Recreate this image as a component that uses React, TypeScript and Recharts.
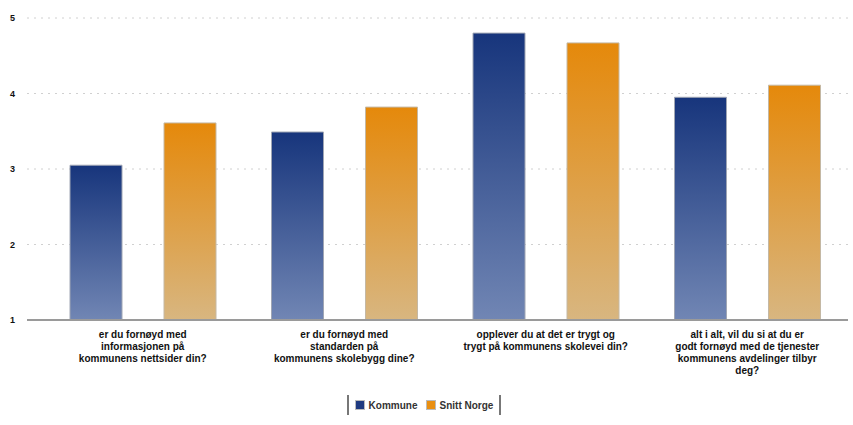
import React from "react";
import { Bar, BarChart, CartesianGrid, Legend, XAxis, YAxis } from "recharts";

// Survey scores, 1–5 scale: the municipality against the national average.
const categories = [
  "er du fornøyd med\ninformasjonen på\nkommunens nettsider din?",
  "er du fornøyd med\nstandarden på\nkommunens skolebygg dine?",
  "opplever du at det er trygt og\ntrygt på kommunens skolevei din?",
  "alt i alt,  vil du si at du er\ngodt fornøyd med de tjenester\nkommunens avdelinger tilbyr\ndeg?",
];
const kommune = [3.05, 3.49, 4.8, 3.95];
const snittNorge = [3.61, 3.82, 4.67, 4.11];
const yTicks = [1, 2, 3, 4, 5];
const seriesNames = ["Kommune", "Snitt Norge"];

const rows = categories.map((c, i) => ({ category: c, kommune: kommune[i], snitt: snittNorge[i] }));

const FONT = "'Liberation Sans', Arial, sans-serif";

function CategoryTick({ x, y, payload }: any) {
  const lines = String(payload.value).split("\n");
  return (
    <text x={x} y={y} textAnchor="middle" fontFamily={FONT} fontSize={10} fontWeight="bold" fill="#111">
      {lines.map((l, i) => (
        <tspan key={i} x={x} dy={i === 0 ? 10 : 12}>
          {l}
        </tspan>
      ))}
    </text>
  );
}

function LegendBox() {
  const item = (color: string, label: string) => (
    <span style={{ display: "inline-flex", alignItems: "center", margin: "0 4px" }}>
      <span style={{ width: 8, height: 8, background: color, border: "1px solid #bbb", marginRight: 4 }} />
      {label}
    </span>
  );
  return (
    <div style={{ textAlign: "center" }}>
      <div
        style={{
          display: "inline-flex",
          alignItems: "center",
          height: 20,
          padding: "0 2px",
          borderLeft: "2px solid #777",
          borderRight: "2px solid #777",
          fontFamily: FONT,
          fontSize: 10,
          fontWeight: "bold",
          color: "#333",
        }}
      >
        {item("#1f3a80", seriesNames[0])}
        {item("#e98f12", seriesNames[1])}
      </div>
    </div>
  );
}

export default function App() {
  return (
    <div style={{ position: "absolute", left: 0, top: 0, background: "#fff" }}>
      <BarChart
        width={853}
        height={425}
        data={rows}
        margin={{ top: 18, right: 5, bottom: 0, left: 0 }}
        barSize={52}
        barGap={42}
        barCategoryGap={27}
      >
        <defs>
          <linearGradient id="gBlue" x1="0" y1="0" x2="0" y2="1">
            <stop offset="0%" stopColor="#17357c" />
            <stop offset="100%" stopColor="#7186b4" />
          </linearGradient>
          <linearGradient id="gOrange" x1="0" y1="0" x2="0" y2="1">
            <stop offset="0%" stopColor="#e5890b" />
            <stop offset="100%" stopColor="#d8b680" />
          </linearGradient>
        </defs>
        <CartesianGrid vertical={false} stroke="#d0d0d0" strokeDasharray="2 5" />
        <XAxis
          dataKey="category"
          interval={0}
          height={75}
          padding={{ left: 15, right: 0 }}
          tick={<CategoryTick />}
          tickLine={false}
          axisLine={{ stroke: "#9a9a9a", strokeWidth: 2 }}
        />
        <YAxis
          domain={[1, 5]}
          ticks={yTicks}
          width={27}
          axisLine={false}
          tickLine={false}
          tickMargin={6}
          tick={{ fontSize: 9, fontWeight: "bold", fill: "#111", fontFamily: FONT }}
        />
        <Legend verticalAlign="bottom" height={30} content={<LegendBox />} />
        <Bar dataKey="kommune" name={seriesNames[0]} fill="url(#gBlue)" stroke="#a0a6b4" strokeWidth={1} isAnimationActive={false} />
        <Bar dataKey="snitt" name={seriesNames[1]} fill="url(#gOrange)" stroke="#c4b8a4" strokeWidth={1} isAnimationActive={false} />
      </BarChart>
    </div>
  );
}
